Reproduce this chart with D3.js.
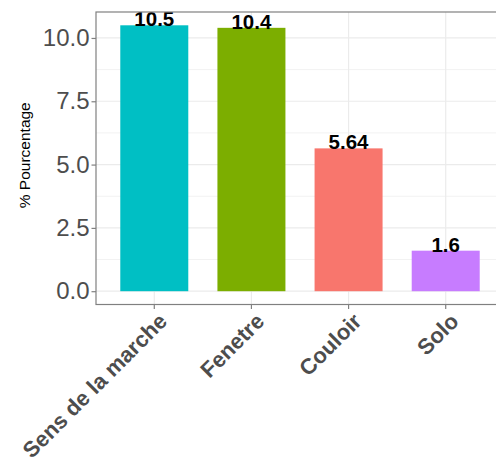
<!DOCTYPE html>
<html><head><meta charset="utf-8">
<script src="https://cdn.jsdelivr.net/npm/d3@7"></script>
<style>body{margin:0;background:#fff}svg{display:block}</style>
</head><body>
<script>
const categories = ["Sens de la marche", "Fenetre", "Couloir", "Solo"];
const values = [10.5, 10.4, 5.64, 1.6];
const labels = ["10.5", "10.4", "5.64", "1.6"];
const colors = ["#00BFC4", "#7CAE00", "#F8766D", "#C77CFF"];
const yTicks = [0, 2.5, 5, 7.5, 10];
const yMinor = [1.25, 3.75, 6.25, 8.75];
const yTitle = "% Pourcentage";

const W = 496, H = 468;
const L = 96, T = 12, R = 504, B = 304.5;
const svg = d3.select("body").append("svg").attr("width", W).attr("height", H);

const y = d3.scaleLinear().domain([-0.525, 11.025]).range([B, T]);
const x = d3.scaleBand().domain(categories).range([L, R]).paddingInner(0.3).paddingOuter(0.25);

// grid
const g = svg.append("g");
g.selectAll(".mn").data(yMinor).enter().append("line")
  .attr("x1", L).attr("x2", R).attr("y1", d => y(d)).attr("y2", d => y(d))
  .attr("stroke", "#f2f2f2").attr("stroke-width", 1);
g.selectAll(".mj").data(yTicks).enter().append("line")
  .attr("x1", L).attr("x2", R).attr("y1", d => y(d)).attr("y2", d => y(d))
  .attr("stroke", "#ebebeb").attr("stroke-width", 1.2);
g.selectAll(".vx").data(categories).enter().append("line")
  .attr("x1", d => x(d) + x.bandwidth() / 2).attr("x2", d => x(d) + x.bandwidth() / 2)
  .attr("y1", T).attr("y2", B)
  .attr("stroke", "#ebebeb").attr("stroke-width", 1.2);

// bars
svg.selectAll(".bar").data(categories).enter().append("rect")
  .attr("x", d => x(d)).attr("width", x.bandwidth())
  .attr("y", (d, i) => y(values[i])).attr("height", (d, i) => y(0) - y(values[i]))
  .attr("fill", (d, i) => colors[i]);

// bar labels
svg.selectAll(".lab").data(categories).enter().append("text")
  .attr("x", d => x(d) + x.bandwidth() / 2)
  .attr("y", (d, i) => y(values[i]) + 1)
  .attr("text-anchor", "middle")
  .attr("font-family", "Liberation Sans, Arial, sans-serif")
  .attr("font-weight", "bold").attr("font-size", 20.5).attr("fill", "#000")
  .text((d, i) => labels[i]);

// panel border
svg.append("rect").attr("x", L).attr("y", T).attr("width", R - L).attr("height", B - T)
  .attr("fill", "none").attr("stroke", "#808080").attr("stroke-width", 1.2);

// y axis
const ya = svg.append("g").attr("transform", `translate(${L},0)`)
  .call(d3.axisLeft(y).tickValues(yTicks).tickFormat(d3.format(".1f")).tickSize(4.5).tickPadding(2));
ya.select(".domain").remove();
ya.selectAll(".tick line").attr("stroke", "#808080").attr("stroke-width", 1.2);
ya.selectAll(".tick text").attr("font-family", "Liberation Sans, Arial, sans-serif")
  .attr("font-size", 24).attr("fill", "#4D4D4D");

// x axis
const xa = svg.append("g").attr("transform", `translate(0,${B})`)
  .call(d3.axisBottom(x).tickSize(4.5).tickFormat(() => ""));
xa.select(".domain").remove();
xa.selectAll(".tick line").attr("stroke", "#808080").attr("stroke-width", 1.2);
svg.selectAll(".xl").data(categories).enter().append("text")
  .attr("transform", d => `translate(${x(d) + x.bandwidth() / 2 + 3},${B + 7}) rotate(-45)`)
  .attr("text-anchor", "end").attr("dy", "0.72em")
  .attr("font-family", "Liberation Sans, Arial, sans-serif")
  .attr("font-weight", "bold").attr("font-size", 22).attr("fill", "#4D4D4D")
  .text(d => d);

// y title
svg.append("text").attr("transform", `translate(25,${(T + B) / 2 - 3}) rotate(-90)`)
  .attr("text-anchor", "middle").attr("dy", "0.35em")
  .attr("font-family", "Liberation Sans, Arial, sans-serif")
  .attr("font-size", 15.5).attr("fill", "#000").text(yTitle);
</script>
</body></html>
